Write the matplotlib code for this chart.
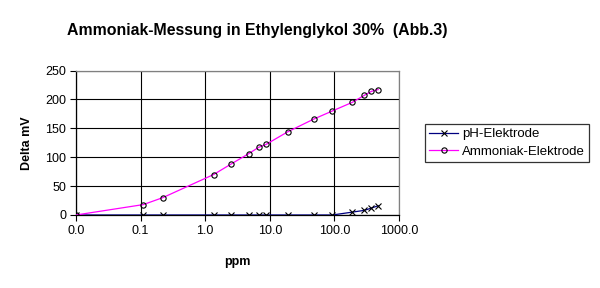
import matplotlib
matplotlib.use("Agg")
import matplotlib.pyplot as plt

plt.rcParams["font.family"] = ["Liberation Sans", "DejaVu Sans"]

# values (log-scaled ppm axis)
ppm = [0.01, 0.11, 0.22, 1.35, 2.5, 4.7, 6.7, 8.7, 19, 48, 93, 190, 290, 375, 475]
ammoniak_mv = [0, 18, 30, 70, 88, 106, 117, 122, 144, 166, 180, 195, 207, 214, 217]
ph_mv = [0, 0, 0, 0, 0, 0, 0, 0, 0, 0, 0, 5, 8, 12, 16]

x_ticks = [0.01, 0.1, 1, 10, 100, 1000]
x_tick_labels = ["0.0", "0.1", "1.0", "10.0", "100.0", "1000.0"]
y_ticks = [0, 50, 100, 150, 200, 250]

fig = plt.figure(figsize=(6.0, 2.88), dpi=100)
ax = fig.add_axes([0.1267, 0.2535, 0.5383, 0.5017])

ax.plot(ppm, ph_mv, color="#000080", lw=0.9, marker="x", ms=4.5,
        mew=0.8, mec="#000000", label="pH-Elektrode", zorder=3)
ax.plot(ppm, ammoniak_mv, color="#ff00ff", lw=0.9, marker="o", ms=3.8,
        mfc="none", mec="#000000", mew=0.8, label="Ammoniak-Elektrode",
        zorder=4)

ax.set_xscale("log")
ax.set_xlim(0.01, 1000)
ax.set_ylim(0, 250)
ax.set_xticks(x_ticks)
ax.set_xticklabels(x_tick_labels)
ax.minorticks_off()
ax.set_yticks(y_ticks)
ax.grid(True, color="black", lw=0.8, zorder=1)
ax.set_axisbelow(True)
ax.tick_params(labelsize=9, length=4, width=0.8, direction="out", pad=3)

for spine in ("top", "right"):
    ax.spines[spine].set_color("#808080")
    ax.spines[spine].set_linewidth(0.9)
for spine in ("left", "bottom"):
    ax.spines[spine].set_color("black")
    ax.spines[spine].set_linewidth(0.9)

ax.set_xlabel("ppm", fontsize=9, fontweight="bold", labelpad=14)
ax.set_ylabel("Delta mV", fontsize=9, fontweight="bold", labelpad=9)

fig.text(0.428, 0.893, "Ammoniak-Messung in Ethylenglykol 30%  (Abb.3)",
         ha="center", va="center", fontsize=11.4, fontweight="bold")

leg = fig.legend(loc="center", bbox_to_anchor=(0.713, 0.431, 0.264, 0.145),
                 fontsize=9.5, frameon=True, fancybox=False, handlelength=2.2,
                 handletextpad=0.3, borderpad=0.3, labelspacing=0.4,
                 borderaxespad=0)
leg.get_frame().set_edgecolor("black")
leg.get_frame().set_linewidth(0.9)

fig.savefig("out.png", dpi=100)
